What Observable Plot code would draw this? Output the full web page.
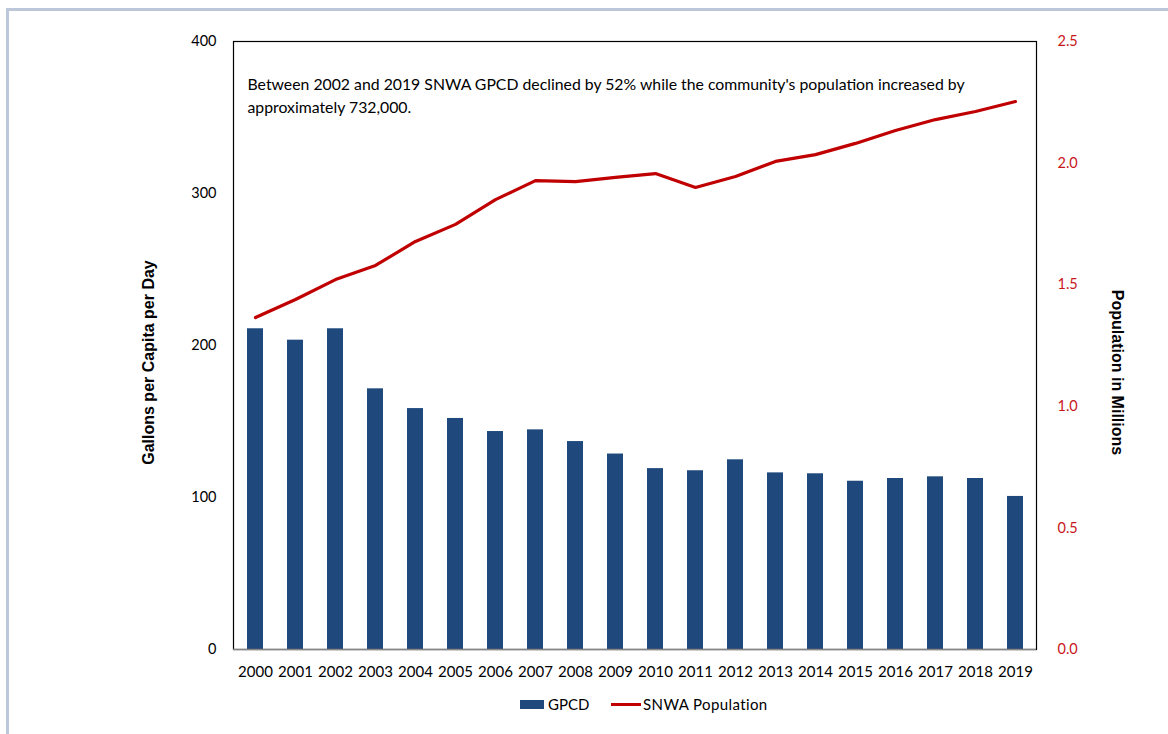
<!DOCTYPE html>
<html>
<head>
<meta charset="utf-8">
<script src="https://cdn.jsdelivr.net/npm/d3@7"></script>
<script src="https://cdn.jsdelivr.net/npm/@observablehq/plot@0.6"></script>
<style>
  html, body { margin: 0; padding: 0; background: #fff; width: 1168px; height: 734px; overflow: hidden; }
  #border { position: absolute; left: 6px; top: 8px; width: 1300px; height: 900px; border-top: 3px solid #bcc7d9; border-left: 3px solid #bcc7d9; box-sizing: border-box; }
  #chart { position: absolute; left: 0; top: 0; }
  #legend { position: absolute; left: 0; top: 690px; width: 1168px; height: 30px; font-family: Lato, "Open Sans", sans-serif; font-size: 15px; color: #000; }
  .sw { position: absolute; }
  .lt { position: absolute; top: 4px; line-height: 20px; }
</style>
</head>
<body>
<div id="border"></div>
<div id="chart"></div>
<div id="legend">
  <div class="sw" style="left:520px; top:10px; width:24px; height:9px; background:#1f497d;"></div>
  <div class="lt" style="left:548px;">GPCD</div>
  <div class="sw" style="left:611px; top:13px; width:30px; height:3px; background:#c00000;"></div>
  <div class="lt" style="left:643px; letter-spacing:0.4px;">SNWA Population</div>
</div>
<script>
const years = ["2000","2001","2002","2003","2004","2005","2006","2007","2008","2009","2010","2011","2012","2013","2014","2015","2016","2017","2018","2019"];
const gpcd = [211, 203.5, 211, 171.5, 158.5, 152, 143.4, 144.5, 136.8, 128.6, 119, 117.6, 124.8, 116.2, 115.6, 110.7, 112.5, 113.6, 112.5, 100.7];
const population = [1.365, 1.439, 1.521, 1.579, 1.678, 1.748, 1.850, 1.928, 1.924, 1.941, 1.957, 1.900, 1.945, 2.007, 2.035, 2.081, 2.134, 2.179, 2.212, 2.253];
const leftTicks = [0, 100, 200, 300, 400];
const rightTicks = [0, 0.5, 1.0, 1.5, 2.0, 2.5];
const leftTitle = "Gallons per Capita per Day";
const rightTitle = "Population in Millions";
const annotation = "Between 2002 and 2019 SNWA GPCD declined by 52% while the community's population increased by\napproximately 732,000.";

const gpcdMax = 400, popMax = 2.5;
const k = gpcdMax / popMax;

const rows = years.map((y, i) => ({year: y, gpcd: gpcd[i], pop: population[i]}));

const tickFont = "Lato, 'Open Sans', sans-serif";
const titleFont = "'Liberation Sans', Arial, sans-serif";

const plot = Plot.plot({
  width: 1168,
  height: 690,
  marginLeft: 233,
  marginRight: 132,
  marginTop: 41,
  marginBottom: 41,
  style: {fontFamily: tickFont, fontSize: "14px", background: "transparent", overflow: "visible"},
  x: {domain: years, paddingInner: 0.6, paddingOuter: 0.3},
  y: {domain: [0, gpcdMax]},
  marks: [
    Plot.barY(rows, {x: "year", y: "gpcd", fill: "#1f497d"}),
    Plot.line(rows, {x: "year", y: d => d.pop * k, stroke: "#c00000", strokeWidth: 3.2, strokeLinejoin: "round"}),
    Plot.frame({stroke: "#000", strokeWidth: 1.2}),
    Plot.ruleX([0], {frameAnchor: "left", stroke: "#868686", strokeWidth: 1.5}),
    Plot.ruleY([0], {stroke: "#868686", strokeWidth: 1.5}),
    Plot.axisY(leftTicks, {anchor: "left", tickSize: 0, tickPadding: 17, label: null, fontSize: 14.5, fill: "#000"}),
    Plot.axisY(rightTicks.map(t => t * k), {anchor: "right", tickSize: 0, tickPadding: 21, label: null, tickFormat: d => (d / k).toFixed(1), fill: "#c8161b", fontSize: 14.5}),
    Plot.axisX({anchor: "bottom", tickSize: 0, tickPadding: 17, label: null, fontSize: 15, fill: "#000"}),
    Plot.text([leftTitle], {frameAnchor: "left", textAnchor: "middle", dx: -85, dy: 17, rotate: -90, fontFamily: titleFont, fontWeight: "bold", fontSize: 16, fill: "#000"}),
    Plot.text([rightTitle], {frameAnchor: "right", textAnchor: "middle", dx: 81, dy: 27, rotate: 90, fontFamily: titleFont, fontWeight: "bold", fontSize: 16, fill: "#000"}),
    Plot.text([annotation], {frameAnchor: "top-left", dx: 14, dy: 32, textAnchor: "start", lineAnchor: "top", lineHeight: 1.46, fontSize: 15.8, fill: "#000"})
  ]
});
document.getElementById("chart").appendChild(plot);
</script>
</body>
</html>
